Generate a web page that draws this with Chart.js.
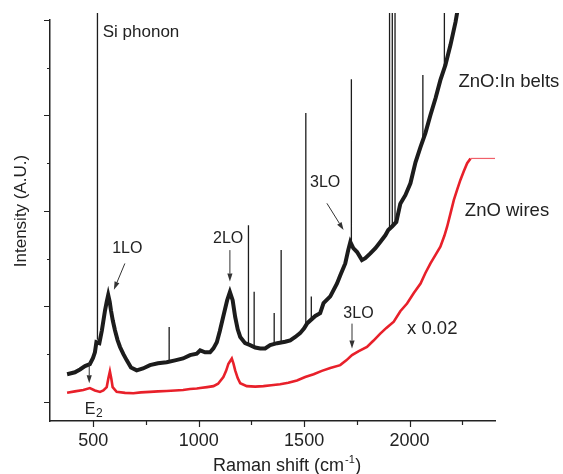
<!DOCTYPE html>
<html>
<head>
<meta charset="utf-8">
<script src="https://cdn.jsdelivr.net/npm/chart.js@4.4.1/dist/chart.umd.min.js"></script>
<style>
  html, body { margin: 0; padding: 0; background: #fff; }
</style>
</head>
<body>
<canvas id="raman" width="563" height="474"></canvas>
<script>
// ZnO:In belts (black)
const beltShift = [376, 395, 413, 437, 461, 484, 499, 508, 515, 529, 541, 556, 564, 571, 578, 584, 593, 603, 615, 627,
  643, 659, 679, 706, 736, 769, 807, 848, 888, 926, 959, 991, 1007, 1030, 1054, 1070, 1086, 1100, 1116, 1135,
  1148, 1161, 1173, 1185, 1197, 1220, 1244, 1268, 1292, 1315, 1339, 1372, 1410, 1434, 1458, 1481, 1500, 1515, 1553, 1576,
  1592, 1624, 1656, 1671, 1695, 1709, 1719, 1733, 1751, 1774, 1790, 1814, 1838, 1861, 1885, 1899, 1918, 1937, 1956, 1980,
  2004, 2028, 2052, 2075, 2099, 2123, 2146, 2170, 2194, 2218, 2235];
const beltIntensity = [58, 60, 62, 68, 75, 79, 92, 104, 125, 123, 150, 192, 210, 224, 210, 192, 170, 150, 130, 115,
  100, 87, 72, 66, 70, 77, 81, 83, 87, 91, 98, 101, 108, 104, 104, 112, 125, 148, 178, 213,
  230, 213, 178, 152, 136, 123, 119, 114, 112, 112, 119, 123, 126, 129, 136, 144, 154, 165, 180, 186,
  207, 221, 248, 265, 290, 318, 335, 322, 314, 297, 301, 311, 322, 335, 349, 360, 368, 377, 415, 433,
  458, 502, 534, 563, 601, 636, 674, 706, 748, 796, 840];

// sharp lines on the belts spectrum
const spikeShift = [520, 860, 1236, 1263, 1358, 1391, 1508, 1534, 1724, 1905, 1918, 1931, 2063, 2165];
const spikeBase = [130, 84, 121, 114, 120, 124, 160, 172, 330, 362, 368, 374, 548, 700];
const spikeTop = [880, 157, 370, 231, 186, 318, 605, 221, 676, 880, 880, 880, 685, 880];

// ZnO wires (red, x 0.02)
const wireShift = [376, 413, 453, 484, 508, 532, 548, 564, 572, 579, 586, 592, 611, 651, 690, 726, 769, 807, 848, 888,
  926, 959, 991, 1007, 1040, 1070, 1092, 1117, 1130, 1141, 1157, 1165, 1173, 1185, 1197, 1228, 1268, 1307, 1344, 1386,
  1425, 1466, 1505, 1545, 1584, 1624, 1671, 1700, 1727, 1757, 1798, 1828, 1861, 1890, 1925, 1956, 1988, 2020, 2052, 2075,
  2099, 2123, 2146, 2165, 2178, 2194, 2210, 2226, 2241, 2257, 2273, 2289, 2405];
const wireIntensity = [19, 22, 25, 29, 24, 21, 24, 31, 50, 64, 48, 31, 21, 19, 18, 20, 21, 22, 23, 24,
  25, 27, 28, 29, 31, 33, 38, 52, 65, 80, 91, 80, 66, 50, 39, 33, 32, 33, 35, 37,
  40, 45, 52, 58, 65, 71, 77, 87, 98, 106, 115, 128, 143, 155, 168, 190, 206, 228, 248, 270,
  290, 308, 325, 348, 367, 395, 423, 445, 465, 483, 500, 510, 510];

const xMajorTicks = [500, 1000, 1500, 2000];
const xMinorTicks = [750, 1250, 1750, 2250];
const yMajorTicks = [0, 200, 400, 600, 800];
const yMinorTicks = [100, 300, 500, 700];

const FONT = '"Liberation Sans", Arial, Helvetica, sans-serif';
const INK = '#222';

// labels and arrows, in data units
const notes = [
  { text: 'Si phonon', x: 545, y: 764, size: 17 },
  { text: '1LO', x: 590, y: 311, size: 16 },
  { text: '2LO', x: 1068, y: 333, size: 16 },
  { text: '3LO', x: 1528, y: 451, size: 16 },
  { text: 'ZnO:In belts', x: 2232, y: 659, size: 18.5 },
  { text: 'ZnO wires', x: 2262, y: 389, size: 18.5 },
  { text: '3LO', x: 1686, y: 175, size: 16 },
  { text: 'x 0.02', x: 1988, y: 143, size: 18.5 }
];
const arrows = [
  { x1: 650, y1: 290, x2: 598, y2: 235 },
  { x1: 1148, y1: 318, x2: 1148, y2: 252 },
  { x1: 1608, y1: 416, x2: 1687, y2: 360 },
  { x1: 1727, y1: 164, x2: 1727, y2: 112 },
  { x1: 481, y1: 83, x2: 481, y2: 39 }
];

function pairs(xs, ys) {
  return xs.map((x, i) => ({ x: x, y: ys[i] }));
}

const spikeData = [];
spikeShift.forEach((s, i) => {
  spikeData.push({ x: s, y: spikeBase[i] }, { x: s, y: spikeTop[i] }, { x: s, y: null });
});

const figureMarks = {
  id: 'figureMarks',
  afterDraw(chart) {
    const ctx = chart.ctx;
    const xs = chart.scales.x;
    const ys = chart.scales.y;
    const area = chart.chartArea;
    ctx.save();
    ctx.strokeStyle = INK;
    ctx.lineWidth = 1.2;
    ctx.beginPath();
    xMajorTicks.forEach(v => { const p = Math.round(xs.getPixelForValue(v)) + 0.5; ctx.moveTo(p, area.bottom); ctx.lineTo(p, area.bottom + 6); });
    xMinorTicks.forEach(v => { const p = Math.round(xs.getPixelForValue(v)) + 0.5; ctx.moveTo(p, area.bottom); ctx.lineTo(p, area.bottom + 4); });
    yMajorTicks.forEach(v => { const p = Math.round(ys.getPixelForValue(v)) + 0.5; ctx.moveTo(area.left, p); ctx.lineTo(area.left - 6, p); });
    yMinorTicks.forEach(v => { const p = Math.round(ys.getPixelForValue(v)) + 0.5; ctx.moveTo(area.left, p); ctx.lineTo(area.left - 3, p); });
    ctx.stroke();

    // arrows
    ctx.strokeStyle = '#333';
    ctx.fillStyle = '#333';
    ctx.lineWidth = 1;
    arrows.forEach(a => {
      const x1 = xs.getPixelForValue(a.x1), y1 = ys.getPixelForValue(a.y1);
      const x2 = xs.getPixelForValue(a.x2), y2 = ys.getPixelForValue(a.y2);
      const ang = Math.atan2(y2 - y1, x2 - x1);
      const hl = 8, hw = 2.6;
      const bx = x2 - hl * Math.cos(ang), by = y2 - hl * Math.sin(ang);
      ctx.beginPath();
      ctx.moveTo(x1, y1);
      ctx.lineTo(bx, by);
      ctx.stroke();
      ctx.beginPath();
      ctx.moveTo(x2, y2);
      ctx.lineTo(bx + hw * Math.sin(ang), by - hw * Math.cos(ang));
      ctx.lineTo(bx - hw * Math.sin(ang), by + hw * Math.cos(ang));
      ctx.closePath();
      ctx.fill();
    });

    // text labels
    ctx.fillStyle = INK;
    ctx.textAlign = 'left';
    ctx.textBaseline = 'alphabetic';
    notes.forEach(n => {
      ctx.font = n.size + 'px ' + FONT;
      ctx.fillText(n.text, xs.getPixelForValue(n.x), ys.getPixelForValue(n.y));
    });

    // E2 with subscript
    const ex = xs.getPixelForValue(460), ey = ys.getPixelForValue(-26);
    ctx.font = '16px ' + FONT;
    ctx.fillText('E', ex, ey);
    const ew = ctx.measureText('E').width;
    ctx.font = '12px ' + FONT;
    ctx.fillText('2', ex + ew + 0.5, ey + 3);

    // x axis title with superscript
    ctx.font = '18px ' + FONT;
    const tx = 213, tyb = 471;
    const main = 'Raman shift (cm';
    ctx.fillText(main, tx, tyb);
    let cx = tx + ctx.measureText(main).width + 1;
    ctx.font = '11px ' + FONT;
    ctx.fillText('-1', cx, tyb - 8);
    cx += ctx.measureText('-1').width + 0.5;
    ctx.font = '18px ' + FONT;
    ctx.fillText(')', cx, tyb);

    // y axis title
    ctx.translate(21.5, 211);
    ctx.rotate(-Math.PI / 2);
    ctx.font = '17px ' + FONT;
    ctx.textAlign = 'center';
    ctx.textBaseline = 'middle';
    ctx.fillText('Intensity (A.U.)', 0, 0);
    ctx.restore();
  }
};

new Chart(document.getElementById('raman').getContext('2d'), {
  type: 'line',
  data: {
    datasets: [
      {
        label: 'ZnO:In belts',
        data: pairs(beltShift, beltIntensity),
        borderColor: '#1c1c1c',
        borderWidth: 4,
        pointRadius: 0,
        tension: 0,
        clip: { left: 0, top: 7, right: 0, bottom: 0 }
      },
      {
        label: 'lines',
        data: spikeData,
        borderColor: '#1c1c1c',
        borderWidth: 1.3,
        pointRadius: 0,
        spanGaps: false,
        clip: { left: 0, top: 7, right: 0, bottom: 0 }
      },
      {
        label: 'ZnO wires',
        data: pairs(wireShift, wireIntensity),
        borderColor: '#e8202a',
        borderWidth: 2.6,
        pointRadius: 0,
        tension: 0,
        segment: {
          borderWidth: c => (c.p0.parsed.x >= 2289 ? 1.2 : undefined),
          borderColor: c => (c.p0.parsed.x >= 2289 ? '#f0606a' : undefined)
        }
      }
    ]
  },
  options: {
    responsive: false,
    animation: false,
    devicePixelRatio: 1,
    layout: { padding: { top: 20, right: 68, left: 0, bottom: 0 } },
    plugins: { legend: { display: false }, tooltip: { enabled: false } },
    scales: {
      x: {
        type: 'linear',
        min: 295,
        max: 2405,
        afterFit: s => { s.height = 53; },
        afterBuildTicks: s => { s.ticks = xMajorTicks.map(v => ({ value: v })); },
        ticks: { font: { family: FONT, size: 18 }, color: INK, padding: 9, maxRotation: 0, autoSkip: false, callback: v => String(v) },
        grid: { display: false, drawTicks: false, tickLength: 0 },
        border: { display: true, color: INK, width: 1.5 }
      },
      y: {
        type: 'linear',
        min: -40,
        max: 800,
        afterFit: s => { s.width = 50; },
        ticks: { display: false },
        grid: { display: false, drawTicks: false, tickLength: 0 },
        border: { display: true, color: INK, width: 1.5 }
      }
    }
  },
  plugins: [figureMarks]
});
</script>
</body>
</html>
